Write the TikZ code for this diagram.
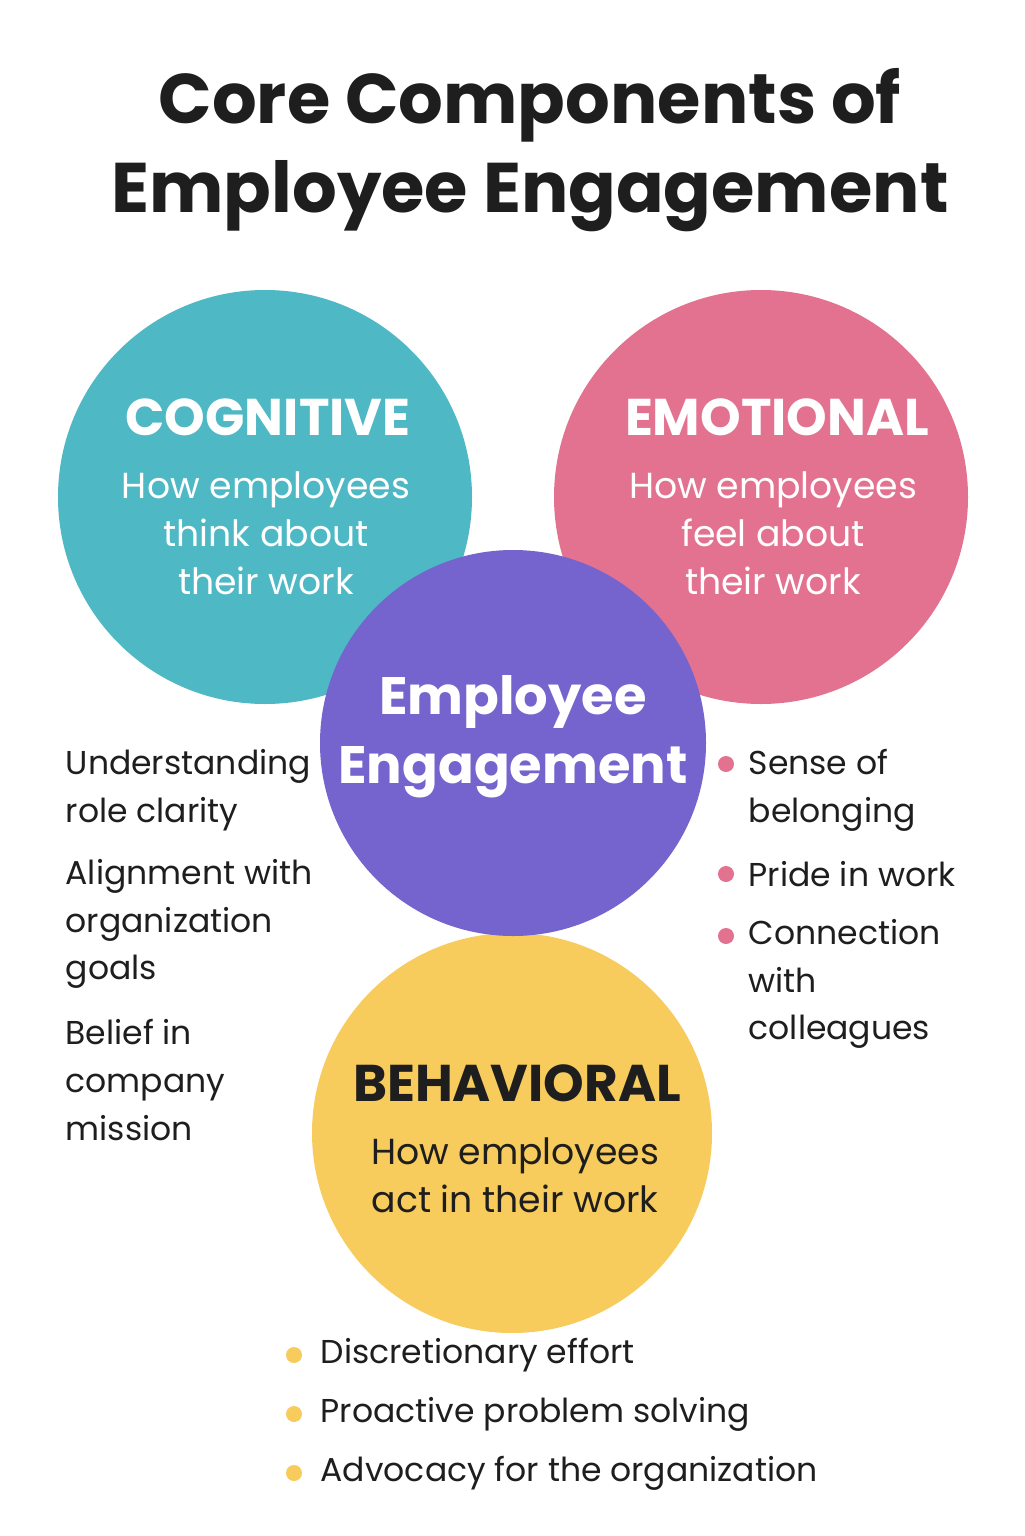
\documentclass[tikz,border=0pt]{standalone}
\usepackage{fontspec}
\setmainfont{Poppins}
\usetikzlibrary{positioning}
\definecolor{cogteal}{RGB}{78,184,196}
\definecolor{emopink}{RGB}{227,114,144}
\definecolor{engpurple}{RGB}{117,99,206}
\definecolor{behyellow}{RGB}{247,203,92}
\definecolor{inkdark}{RGB}{30,30,30}
\tikzset{
  bubble/.style={circle, inner sep=0pt},
  headlbl/.style={font=\fontsize{14.7}{18}\selectfont\bfseries, text=white},
  sublbl/.style={font=\fontsize{10.3}{13.6}\selectfont, text=white, align=center},
  item/.style={anchor=west, align=left, inner sep=0pt, text=inkdark,
    font=\fontsize{9.4}{13.6}\selectfont},
  dot/.style={circle, inner sep=0pt, minimum size=0.16cm}
}
\begin{document}
\begin{tikzpicture}
    \useasboundingbox[fill=white] (0,0) rectangle (10.24,-15.36);

    % TITULO
    \node[font=\fontsize{20}{25.5}\selectfont\bfseries, text=inkdark, align=center] (title)
      at (5.3,-1.5) {Core Components of\\Employee Engagement};

    % CIRCULOS
    \node[bubble, fill=cogteal, minimum size=4.14cm] (cog) at (2.65,-4.97) {};
    \node[bubble, fill=emopink, minimum size=4.14cm] (emo) at (7.61,-4.97) {};
    \node[bubble, fill=behyellow, minimum size=4.0cm] (beh) at (5.12,-11.33) {};
    \node[bubble, fill=engpurple, minimum size=3.86cm] (eng) at (5.13,-7.43) {};

    % TEXTOS
    \node[headlbl] (coghead) at (2.68,-4.17) {COGNITIVE};
    \node[sublbl] (cogsub) at (2.66,-5.33) {How employees\\think about\\their work};
    \node[headlbl] (emohead) at (7.77,-4.17) {EMOTIONAL};
    \node[sublbl] (emosub) at (7.73,-5.33) {How employees\\feel about\\their work};
    \node[font=\fontsize{15}{19.5}\selectfont\bfseries, text=white, align=center] (enghead)
      at (5.13,-7.37) {Employee\\Engagement};
    \node[headlbl, text=inkdark] (behhead) at (5.17,-10.83) {BEHAVIORAL};
    \node[sublbl, text=inkdark] (behsub) at (5.15,-11.75) {How employees\\act in their work};

    % LISTA IZQUIERDA
    \node[item] (l1) at (0.65,-7.90) {Understanding\\role clarity};
    \node[item] (l2) at (0.65,-9.24) {Alignment with\\organization\\goals};
    \node[item] (l3) at (0.65,-10.80) {Belief in\\company\\mission};

    % LISTA DERECHA
    \node[item] (r1) at (7.48,-7.90) {Sense of\\belonging};
    \node[item] (r2) at (7.48,-8.74) {Pride in work};
    \node[item] (r3) at (7.48,-9.84) {Connection\\with\\colleagues};
    \foreach \y in {7.64,8.74,9.36}
      \node[dot, fill=emopink] at (7.26,-\y) {};

    % LISTA INFERIOR
    \node[item] (b1) at (3.20,-13.55) {Discretionary effort};
    \node[item] (b2) at (3.20,-14.14) {Proactive problem solving};
    \node[item] (b3) at (3.20,-14.73) {Advocacy for the organization};
    \foreach \y in {13.55,14.14,14.73}
      \node[dot, fill=behyellow] at (2.94,-\y) {};

\end{tikzpicture}
\end{document}
